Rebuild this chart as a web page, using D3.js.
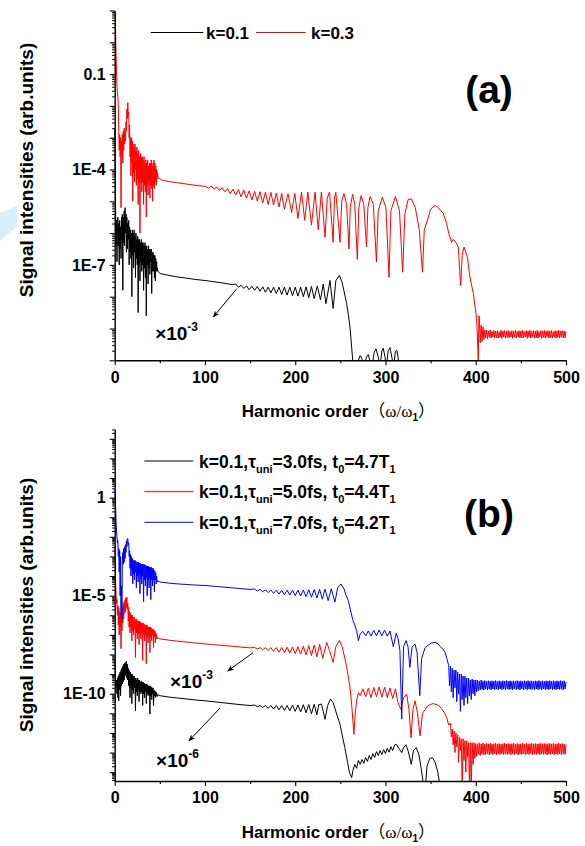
<!DOCTYPE html>
<html>
<head>
<meta charset="utf-8">
<script src="https://cdn.jsdelivr.net/npm/d3@7"></script>
<style>
  body { margin: 0; background: #fff; }
  svg { font-family: "Liberation Sans", Arial, sans-serif; font-weight: bold; }
</style>
</head>
<body>
<div id="chart"></div>
<script>
// ---- data: [harmonic order, log10(intensity)] ----
const xTicks = [0, 100, 200, 300, 400, 500];
const xMinorTicks = [50, 150, 250, 350, 450];
const yLabelsA = [[-1, "0.1"], [-4, "1E-4"], [-7, "1E-7"]];
const yLabelsB = [[0, "1"], [-5, "1E-5"], [-10, "1E-10"]];
const legendA = ["k=0.1", "k=0.3"];
const tauValues = ["3.0", "5.0", "7.0"];
const t0Values = ["4.7", "4.4", "4.2"];

// (a) k=0.1, scaled x10^-3
const aK01 = [[0,-2.7],[0.5,-4.0],[1,-5.3],[1.5,-6.4],[2,-5.6],[2.5,-6.9],[3,-6.0],[3.5,-5.5],[4,-6.4],[4.5,-5.7],
  [5,-7.0],[5.5,-5.6],[6,-6.5],[6.5,-5.8],[7,-6.8],[7.5,-5.5],[8,-6.2],[8.5,-5.4],[9,-7.8],[9.5,-5.5],
  [10,-6.3],[10.5,-5.3],[11,-6.4],[11.5,-5.2],[12,-6.0],[12.5,-5.4],[13,-6.6],[13.5,-5.5],[14,-6.5],[14.5,-5.7],
  [15,-6.2],[15.5,-5.6],[16,-7.0],[16.5,-5.8],[17,-6.6],[17.5,-5.9],[18,-6.8],[18.5,-6.0],[19,-8.0],[19.5,-5.9],
  [20,-6.7],[20.5,-6.0],[21,-7.1],[21.5,-5.9],[22,-6.6],[22.5,-6.1],[23,-7.4],[23.5,-6.0],[24,-6.8],[24.5,-6.2],
  [25,-7.0],[25.5,-6.1],[26,-8.5],[26.5,-6.2],[27,-7.0],[27.5,-6.2],[28,-7.5],[28.5,-6.3],[29,-6.9],[29.5,-6.2],
  [30,-7.2],[30.5,-6.3],[31,-7.0],[31.5,-6.3],[32,-7.8],[32.5,-6.4],[33,-7.1],[33.5,-6.3],[34,-7.4],[34.5,-6.4],
  [35,-8.6],[35.5,-6.4],[36,-7.0],[36.5,-6.5],[37,-7.6],[37.5,-6.4],[38,-7.1],[38.5,-6.5],[39,-7.3],[39.5,-6.5],
  [40,-6.9],[40.5,-6.5],[41,-7.9],[41.5,-6.6],[42,-7.2],[42.5,-6.6],[43,-7.2],[43.5,-6.7],[44,-7.4],[44.5,-6.7],
  [45,-7.5],[45.5,-6.8],[46,-7.2],[46.5,-6.9],[47,-7.2],[47.5,-7.1],[48,-7.2],[50,-7.27],[60,-7.33],[70,-7.38],
  [80,-7.42],[90,-7.46],[100,-7.49],[110,-7.53],[120,-7.57],[130,-7.62],[134,-7.6],[137,-7.7],[140,-7.64],[143,-7.74],
  [146,-7.66],[149,-7.78],[152,-7.67],[155,-7.8],[158,-7.68],[161,-7.83],[164,-7.69],[167,-7.86],[170,-7.7],[173,-7.88],
  [176,-7.7],[179,-7.9],[182,-7.7],[185,-7.93],[188,-7.7],[191,-7.95],[194,-7.7],[197,-7.97],[200,-7.7],[203,-7.98],
  [206,-7.7],[209,-8.0],[212,-7.69],[215,-8.03],[218,-7.68],[221,-8.06],[224.5,-7.66],[228,-8.1],[231,-7.6],[234,-8.22],
  [238.5,-7.49],[242,-8.37],[245,-7.5],[248.9,-7.33],[252,-7.55],[255,-7.95],[257,-8.22],[259,-8.6],[260.7,-8.96],[262,-9.4],
  [263.7,-10.0],[265,-10.5],[268,-10.4],[270,-10.0],[272,-9.85],[274,-9.95],[276,-10.2],[279,-9.9],[281,-9.82],[283,-10.05],
  [285,-10.2],[287.5,-9.75],[289.6,-9.64],[292,-9.9],[294,-10.2],[296,-9.7],[297.5,-9.62],[299.5,-9.9],[301,-10.2],[303,-9.7],
  [305,-9.6],[307,-9.9],[309,-10.2],[311,-9.72],[312.5,-9.68],[314,-9.9],[315,-10.3],[316,-10.6]];

// (a) k=0.3
const aK03 = [[0,1.0],[0.5,0.9],[1,0.3],[1.5,-0.4],[2,-0.9],[2.5,-1.3],[3,-1.6],[3.5,-1.7],[4,-2.0],[4.5,-2.8],
  [5,-3.4],[5.5,-2.9],[6,-3.6],[6.5,-3.0],[7,-5.2],[7.5,-3.1],[8,-3.5],[8.5,-2.9],[9,-3.8],[9.5,-2.8],
  [10,-3.4],[10.5,-2.7],[11,-3.2],[11.5,-2.8],[12,-3.1],[12.5,-2.5],[13,-2.8],[13.5,-2.1],[14,-2.4],[14.5,-1.9],
  [15,-2.3],[15.5,-2.2],[16,-3.0],[16.5,-2.6],[17,-3.6],[17.5,-3.0],[18,-4.2],[18.5,-3.0],[19,-3.8],[19.5,-3.1],
  [20,-5.0],[20.5,-3.2],[21,-4.1],[21.5,-3.3],[22,-4.4],[22.5,-3.2],[23,-4.0],[23.5,-3.4],[24,-4.5],[24.5,-3.3],
  [25,-4.3],[25.5,-3.5],[26,-5.1],[26.5,-3.4],[27,-4.4],[27.5,-3.6],[28,-6.0],[28.5,-3.5],[29,-4.4],[29.5,-3.6],
  [30,-4.7],[30.5,-3.6],[31,-4.4],[31.5,-3.7],[32,-5.1],[32.5,-3.6],[33,-4.5],[33.5,-3.8],[34,-4.7],[34.5,-3.7],
  [35,-5.5],[35.5,-3.8],[36,-4.5],[36.5,-3.7],[37,-4.8],[37.5,-3.9],[38,-4.4],[38.5,-3.8],[39,-4.9],[39.5,-3.8],
  [40,-4.5],[40.5,-3.7],[41,-4.6],[41.5,-3.9],[42,-5.0],[42.5,-3.8],[43,-4.5],[43.5,-3.7],[44,-4.6],[44.5,-3.8],
  [45,-4.4],[45.5,-3.9],[46,-4.5],[46.5,-4.0],[47,-4.3],[47.5,-4.1],[48,-4.25],[52,-4.33],[60,-4.38],[70,-4.42],
  [80,-4.46],[90,-4.5],[100,-4.53],[104,-4.58],[107,-4.52],[110,-4.62],[113,-4.55],[116,-4.66],[119,-4.57],[122,-4.7],
  [125,-4.6],[128,-4.76],[131,-4.62],[134,-4.8],[137,-4.63],[140,-4.86],[143,-4.65],[146,-4.9],[149,-4.67],[152,-4.96],
  [155,-4.69],[158,-5.0],[161,-4.7],[164,-5.05],[167,-4.71],[170,-5.1],[173,-4.72],[176,-5.12],[179,-4.74],[182,-5.18],
  [185,-4.75],[188,-5.25],[192,-4.76],[196,-5.35],[199.5,-4.76],[203,-5.54],[207,-4.71],[210.5,-5.6],[214,-4.71],[218,-5.75],
  [222,-4.71],[225.5,-5.9],[229,-4.71],[233,-6.13],[235.5,-4.9],[238,-4.71],[242,-6.29],[243.5,-4.9],[245,-4.72],[249.6,-6.29],
  [251.5,-5.0],[254,-4.76],[257,-5.1],[259.6,-6.5],[261,-5.2],[263.5,-4.78],[266,-5.1],[268.8,-6.83],[270.5,-5.2],[273,-4.82],
  [276,-5.1],[279,-6.44],[280.5,-5.2],[283,-4.85],[286.5,-5.1],[290,-6.91],[292,-5.3],[296.5,-4.87],[300.5,-5.2],[303.9,-7.39],
  [306,-5.3],[311,-4.85],[315.5,-5.3],[319,-7.23],[321.5,-5.4],[325,-4.95],[328.6,-4.92],[333,-5.2],[337.5,-5.9],[341,-7.23],
  [343,-5.9],[347.5,-5.5],[350,-5.25],[352.6,-5.18],[355,-5.13],[358,-5.2],[361,-5.28],[364,-5.38],[367.8,-5.7],[370,-6.0],
  [373.3,-6.29],[375,-6.2],[377,-6.25],[380.7,-6.44],[383.3,-7.65],[385,-6.7],[387,-6.44],[390.8,-6.76],[393.6,-7.39],[397.3,-7.9],
  [400.3,-8.53],[401.5,-9.0],[402.8,-10.0],[403.5,-8.6],[404,-8.7],[405,-9.45],[406,-8.9],[407,-9.4],[408,-8.95],[409,-9.35],
  [410,-9.05],[411,-9.3],[412,-9.05],[413,-9.32],[414,-9.08],[415,-9.28],[416,-9.05],[417,-9.3],[418,-9.1],[419,-9.27],
  [420,-9.06],[421,-9.3],[422,-9.08],[423,-9.29],[424,-9.07],[425,-9.3],[426,-9.1],[427,-9.28],[428,-9.06],[429,-9.31],
  [430,-9.08],[431,-9.27],[432,-9.07],[433,-9.3],[434,-9.09],[435,-9.28],[436,-9.06],[437,-9.3],[438,-9.1],[439,-9.27],
  [440,-9.07],[441,-9.31],[442,-9.08],[443,-9.28],[444,-9.06],[445,-9.3],[446,-9.09],[447,-9.27],[448,-9.07],[449,-9.3],
  [450,-9.08],[451,-9.29],[452,-9.06],[453,-9.3],[454,-9.1],[455,-9.27],[456,-9.07],[457,-9.31],[458,-9.08],[459,-9.28],
  [460,-9.06],[461,-9.3],[462,-9.09],[463,-9.27],[464,-9.07],[465,-9.3],[466,-9.08],[467,-9.29],[468,-9.06],[469,-9.3],
  [470,-9.1],[471,-9.27],[472,-9.07],[473,-9.31],[474,-9.08],[475,-9.28],[476,-9.06],[477,-9.3],[478,-9.09],[479,-9.27],
  [480,-9.07],[481,-9.3],[482,-9.08],[483,-9.29],[484,-9.06],[485,-9.3],[486,-9.1],[487,-9.27],[488,-9.07],[489,-9.31],
  [490,-9.08],[491,-9.28],[492,-9.06],[493,-9.3],[494,-9.09],[495,-9.27],[496,-9.07],[497,-9.3],[498,-9.08],[499,-9.29],[500,-9.1]];

// (b) k=0.1, tau=3.0fs, scaled x10^-6
const bTau3 = [[0,-8.3],[0.5,-8.8],[1,-9.4],[1.5,-9.7],[2,-9.3],[2.5,-10.0],[3,-9.2],[3.5,-10.2],[4,-9.1],[4.5,-10.36],
  [5,-9.0],[5.5,-9.8],[6,-8.9],[6.5,-10.1],[7,-8.8],[7.5,-9.6],[8,-8.7],[8.5,-9.5],[9,-8.6],[9.5,-9.4],
  [10,-8.5],[10.5,-9.3],[11,-8.45],[11.5,-9.1],[12,-8.4],[12.5,-9.0],[13,-8.35],[13.5,-9.2],[14,-8.5],[14.5,-9.3],
  [15,-8.7],[15.5,-9.6],[16,-8.8],[16.5,-9.5],[17,-10.2],[17.5,-8.9],[18,-9.7],[18.5,-9.0],[19,-10.5],[19.5,-9.0],
  [20,-9.8],[20.5,-9.1],[21,-10.0],[21.5,-9.1],[22,-9.7],[22.5,-9.2],[23,-10.87],[23.5,-9.2],[24,-9.9],[24.5,-9.3],
  [25,-10.1],[25.5,-9.2],[26,-9.8],[26.5,-9.3],[27,-10.4],[27.5,-9.3],[28,-9.9],[28.5,-9.4],[29,-10.0],[29.5,-9.35],
  [30,-9.9],[30.5,-9.4],[31,-10.6],[31.5,-9.4],[32,-10.0],[32.5,-9.45],[33,-10.2],[33.5,-9.5],[34,-9.9],[34.5,-9.5],
  [35,-10.5],[35.5,-9.5],[36,-10.0],[36.5,-9.55],[37,-10.1],[37.5,-9.6],[38,-10.0],[38.5,-9.6],[39,-11.04],[39.5,-9.6],
  [40,-10.1],[40.5,-9.65],[41,-10.3],[41.5,-9.7],[42,-10.0],[42.5,-9.7],[43,-10.6],[43.5,-9.8],[44,-10.1],[44.5,-9.85],
  [45,-10.2],[45.5,-9.9],[46,-10.1],[46.5,-9.95],[47,-10.15],[48,-10.05],[50,-10.1],[60,-10.17],[70,-10.22],[80,-10.27],
  [90,-10.32],[100,-10.36],[110,-10.41],[120,-10.46],[130,-10.51],[140,-10.56],[150,-10.6],[155,-10.58],[158,-10.66],[161,-10.6],
  [164,-10.7],[167,-10.6],[170,-10.74],[173,-10.6],[176,-10.78],[179,-10.6],[182,-10.82],[185,-10.6],[188,-10.85],[191,-10.6],
  [194,-10.87],[197,-10.58],[200,-10.9],[203,-10.57],[206,-10.93],[209,-10.56],[212,-10.97],[215,-10.55],[218,-11.02],[221,-10.54],
  [224,-11.08],[226,-10.56],[229,-10.53],[231,-10.9],[233,-11.3],[236,-10.6],[239,-10.27],[242,-10.45],[245,-10.9],[249.6,-11.55],
  [252,-12.1],[255,-12.75],[258,-13.5],[260,-14.0],[262.5,-14.28],[264,-13.9],[266,-13.6],[268,-13.8],[270,-13.4],[272,-13.6],
  [274,-13.35],[276,-13.55],[278,-13.25],[280,-13.45],[282,-13.15],[284,-13.35],[286,-13.05],[288,-13.25],[290,-12.95],[292,-13.15],
  [294,-12.9],[296,-13.1],[298,-12.85],[300,-13.05],[302,-12.78],[304,-12.98],[306,-12.7],[308,-12.9],[310,-12.62],[312,-12.58],
  [315,-12.8],[318,-13.0],[320,-12.75],[322.6,-12.6],[325,-12.9],[328.6,-13.6],[331,-12.9],[334,-12.75],[337,-13.1],[339.5,-13.8],
  [342,-14.6],[344,-14.9],[346,-13.7],[349,-13.3],[352,-13.26],[355,-13.5],[358,-14.0],[360,-14.6],[362,-15.0]];

// (b) k=0.1, tau=5.0fs, scaled x10^-3
const bTau5 = [[0,-2.59],[0.5,-3.2],[1,-4.2],[1.5,-5.0],[2,-5.4],[2.5,-5.2],[3,-6.0],[3.5,-5.5],[4,-6.5],[4.5,-5.6],
  [5,-7.0],[5.5,-5.8],[6,-6.6],[6.5,-5.9],[7,-7.7],[7.5,-5.8],[8,-6.8],[8.5,-5.6],[9,-6.4],[9.5,-5.4],
  [10,-6.2],[10.5,-5.3],[11,-5.9],[11.5,-5.2],[12,-5.8],[12.5,-5.1],[13,-5.6],[13.5,-5.08],[14,-5.7],[14.5,-5.4],
  [15,-6.3],[15.5,-5.6],[16,-6.6],[16.5,-5.8],[17,-6.9],[17.5,-5.9],[18,-6.6],[18.5,-6.0],[19,-7.3],[19.5,-6.0],
  [20,-6.8],[20.5,-6.1],[21,-7.0],[21.5,-6.1],[22,-6.7],[22.5,-6.2],[23,-8.15],[23.5,-6.2],[24,-6.9],[24.5,-6.2],
  [25,-7.2],[25.5,-6.3],[26,-6.9],[26.5,-6.3],[27,-7.5],[27.5,-6.3],[28,-7.0],[28.5,-6.35],[29,-7.2],[29.5,-6.4],
  [30,-6.9],[30.5,-6.4],[31,-8.3],[31.5,-6.4],[32,-7.0],[32.5,-6.45],[33,-7.3],[33.5,-6.5],[34,-7.0],[34.5,-6.5],
  [35,-8.47],[35.5,-6.5],[36,-7.1],[36.5,-6.55],[37,-7.4],[37.5,-6.6],[38,-7.0],[38.5,-6.6],[39,-7.9],[39.5,-6.6],
  [40,-7.1],[40.5,-6.65],[41,-7.3],[41.5,-6.7],[42,-7.0],[42.5,-6.7],[43,-7.64],[43.5,-6.75],[44,-7.1],[44.5,-6.8],
  [45,-7.4],[45.5,-6.9],[46,-7.2],[46.5,-7.0],[47,-7.2],[48,-7.15],[50,-7.2],[60,-7.27],[70,-7.32],[80,-7.37],
  [90,-7.42],[100,-7.46],[110,-7.5],[120,-7.54],[130,-7.58],[140,-7.62],[150,-7.66],[155,-7.64],[158,-7.72],[161,-7.65],
  [164,-7.76],[167,-7.65],[170,-7.8],[173,-7.65],[176,-7.84],[179,-7.65],[182,-7.88],[185,-7.64],[188,-7.9],[191,-7.63],
  [194,-7.93],[197,-7.62],[200,-7.96],[203,-7.6],[206,-7.98],[209,-7.58],[212,-8.02],[215,-7.55],[218,-8.06],[221,-7.52],
  [224,-8.12],[227,-7.48],[230.5,-8.2],[234.9,-7.38],[238,-7.8],[242,-8.4],[245,-7.6],[248.9,-7.29],[252,-7.6],[255,-8.2],
  [257,-8.66],[259,-9.2],[261,-9.8],[263,-10.8],[265,-12.07],[266.5,-11.0],[268,-10.36],[270,-9.95],[272,-10.1],[275,-9.75],
  [278,-10.15],[281,-9.72],[284,-10.2],[287,-9.68],[290,-10.15],[293,-9.65],[296,-10.18],[299,-9.67],[302,-10.2],[305,-9.7],
  [308,-10.25],[311,-9.75],[313.5,-10.4],[317,-10.8],[320,-10.2],[323.5,-10.02],[326,-10.8],[328.3,-12.24],[330.5,-10.8],[332.7,-10.36],
  [335.5,-11.0],[338.3,-12.15],[341,-11.0],[344,-10.8],[347,-10.6],[350,-10.55],[353,-10.5],[356,-10.55],[359,-10.6],[362,-10.75],
  [365,-10.95],[367.8,-11.2],[370,-11.6],[372,-11.5],[373,-12.2],[374,-11.8],[375,-12.6],[376,-11.9],[377,-13.0],[378,-12.0],
  [379,-12.7],[380,-12.1],[381,-13.5],[382,-12.2],[383,-12.9],[384,-12.3],[385,-15.0],[386,-12.3],[387,-13.4],[388,-12.4],
  [389,-14.0],[390,-12.4],[391,-13.2],[392,-12.5],[393,-14.6],[394,-12.5],[395,-15.0],[396,-12.5],[397,-13.6],[398,-12.5],
  [399,-13.3],[400,-12.55],[401,-13.2],[402,-12.55],[403,-13.1],[404,-12.5],[405,-13.15],[406,-12.56],[407,-13.08],[408,-12.52],
  [409,-13.12],[410,-12.57],[411,-13.1],[412,-12.54],[413,-13.06],[414,-12.56],[415,-13.12],[416,-12.53],[417,-13.08],[418,-12.57],
  [419,-13.1],[420,-12.55],[421,-13.07],[422,-12.53],[423,-13.11],[424,-12.56],[425,-13.08],[426,-12.54],[427,-13.1],[428,-12.57],
  [429,-13.06],[430,-12.55],[431,-13.11],[432,-12.53],[433,-13.08],[434,-12.56],[435,-13.1],[436,-12.54],[437,-13.07],[438,-12.57],
  [439,-13.11],[440,-12.55],[441,-13.08],[442,-12.53],[443,-13.1],[444,-12.56],[445,-13.06],[446,-12.54],[447,-13.12],[448,-12.57],
  [449,-13.08],[450,-12.55],[451,-13.1],[452,-12.53],[453,-13.07],[454,-12.56],[455,-13.11],[456,-12.54],[457,-13.08],[458,-12.57],
  [459,-13.1],[460,-12.55],[461,-13.06],[462,-12.53],[463,-13.11],[464,-12.56],[465,-13.08],[466,-12.54],[467,-13.1],[468,-12.57],
  [469,-13.07],[470,-12.55],[471,-13.11],[472,-12.53],[473,-13.08],[474,-12.56],[475,-13.1],[476,-12.54],[477,-13.06],[478,-12.57],
  [479,-13.12],[480,-12.55],[481,-13.08],[482,-12.53],[483,-13.1],[484,-12.56],[485,-13.07],[486,-12.54],[487,-13.11],[488,-12.57],
  [489,-13.08],[490,-12.55],[491,-13.1],[492,-12.53],[493,-13.06],[494,-12.56],[495,-13.11],[496,-12.54],[497,-13.08],[498,-12.57],
  [499,-13.1],[500,-12.6]];

// (b) k=0.1, tau=7.0fs
const bTau7 = [[0,0.38],[0.5,0.2],[1,-0.5],[1.5,-1.2],[2,-1.7],[2.5,-2.0],[3,-2.3],[3.5,-2.2],[4,-3.0],[4.5,-2.6],
  [5,-3.8],[5.5,-2.7],[6,-5.0],[6.5,-3.0],[7,-6.0],[7.5,-4.5],[8,-6.3],[8.5,-3.2],[9,-2.8],[9.5,-3.4],
  [10,-2.6],[10.5,-3.3],[11,-2.5],[11.5,-3.1],[12,-2.4],[12.5,-2.8],[13,-2.2],[13.5,-2.5],[14,-2.1],[14.5,-2.08],
  [15,-2.4],[15.5,-2.3],[16,-3.0],[16.5,-2.7],[17,-3.6],[17.5,-2.9],[18,-4.0],[18.5,-3.0],[19,-3.7],[19.5,-3.1],
  [20,-4.4],[20.5,-3.2],[21,-3.9],[21.5,-3.2],[22,-4.2],[22.5,-3.2],[23,-3.8],[23.5,-3.25],[24,-4.6],[24.5,-3.3],
  [25,-4.0],[25.5,-3.3],[26,-4.3],[26.5,-3.3],[27,-3.9],[27.5,-3.35],[28,-4.9],[28.5,-3.35],[29,-4.1],[29.5,-3.4],
  [30,-4.4],[30.5,-3.4],[31,-4.0],[31.5,-3.4],[32,-5.3],[32.5,-3.4],[33,-4.2],[33.5,-3.45],[34,-4.5],[34.5,-3.45],
  [35,-4.1],[35.5,-3.5],[36,-5.0],[36.5,-3.5],[37,-4.2],[37.5,-3.5],[38,-4.6],[38.5,-3.55],[39,-4.1],[39.5,-3.55],
  [40,-5.2],[40.5,-3.55],[41,-4.2],[41.5,-3.6],[42,-4.5],[42.5,-3.6],[43,-4.2],[43.5,-3.7],[44,-4.8],[44.5,-3.75],
  [45,-4.2],[45.5,-3.85],[46,-4.4],[46.5,-4.0],[47,-4.3],[48,-4.25],[50,-4.3],[60,-4.36],[70,-4.4],[80,-4.43],
  [90,-4.46],[100,-4.48],[110,-4.52],[120,-4.56],[130,-4.6],[140,-4.64],[150,-4.68],[155,-4.66],[158,-4.76],[161,-4.68],
  [164,-4.8],[167,-4.7],[170,-4.84],[173,-4.71],[176,-4.88],[179,-4.72],[182,-4.92],[185,-4.72],[188,-4.95],[191,-4.72],
  [194,-4.97],[197,-4.72],[200,-5.0],[203,-4.72],[206,-5.02],[209,-4.71],[212,-5.05],[215,-4.7],[218,-5.08],[221,-4.69],
  [224,-5.12],[227,-4.68],[230,-5.18],[233,-4.67],[236.5,-5.25],[240,-4.65],[244,-5.33],[247,-4.6],[250.7,-4.4],[254,-4.65],
  [256.5,-5.0],[258.8,-5.25],[261,-5.7],[264,-6.27],[266,-6.5],[268,-6.78],[270,-7.29],[272,-6.95],[275,-6.82],[278,-7.05],
  [281,-6.8],[284,-7.06],[287,-6.77],[290,-7.05],[293,-6.75],[296,-7.04],[299,-6.76],[302,-7.06],[305,-6.8],[308.7,-7.6],
  [312,-6.9],[314,-7.2],[316,-7.8],[318,-11.3],[320,-7.6],[322.7,-7.29],[325,-7.6],[327,-8.66],[329.5,-7.6],[332.7,-7.46],
  [335,-7.9],[338,-10.1],[340,-8.2],[344,-7.64],[348,-7.5],[351,-7.42],[355,-7.38],[358,-7.45],[361,-7.6],[364,-7.75],
  [366,-7.89],[368,-8.2],[369.6,-8.49],[370,-8.5],[371,-9.6],[372,-8.6],[373,-9.9],[374,-8.7],[375,-10.2],[376,-8.8],
  [377,-9.7],[378,-8.8],[379,-10.4],[380,-8.9],[381,-10.0],[382,-9.0],[383,-10.9],[384,-9.0],[385,-10.3],[386,-9.1],
  [387,-10.6],[388,-9.1],[389,-10.2],[390,-9.2],[391,-10.5],[392,-9.2],[393,-10.1],[394,-9.3],[395,-10.3],[396,-9.25],
  [397,-10.0],[398,-9.3],[399,-10.1],[400,-9.3],[401,-9.9],[402,-9.3],[403,-9.85],[404,-9.35],[405,-9.8],[406,-9.3],
  [407,-9.78],[408,-9.36],[409,-9.82],[410,-9.33],[411,-9.76],[412,-9.36],[413,-9.8],[414,-9.34],[415,-9.77],[416,-9.37],
  [417,-9.8],[418,-9.34],[419,-9.76],[420,-9.36],[421,-9.79],[422,-9.33],[423,-9.77],[424,-9.36],[425,-9.8],[426,-9.34],
  [427,-9.76],[428,-9.37],[429,-9.79],[430,-9.34],[431,-9.77],[432,-9.36],[433,-9.8],[434,-9.33],[435,-9.76],[436,-9.36],
  [437,-9.79],[438,-9.34],[439,-9.77],[440,-9.37],[441,-9.8],[442,-9.34],[443,-9.76],[444,-9.36],[445,-9.79],[446,-9.33],
  [447,-9.77],[448,-9.36],[449,-9.8],[450,-9.34],[451,-9.76],[452,-9.37],[453,-9.79],[454,-9.34],[455,-9.77],[456,-9.36],
  [457,-9.8],[458,-9.33],[459,-9.76],[460,-9.36],[461,-9.79],[462,-9.34],[463,-9.77],[464,-9.37],[465,-9.8],[466,-9.34],
  [467,-9.76],[468,-9.36],[469,-9.79],[470,-9.33],[471,-9.77],[472,-9.36],[473,-9.8],[474,-9.34],[475,-9.76],[476,-9.37],
  [477,-9.79],[478,-9.34],[479,-9.77],[480,-9.36],[481,-9.8],[482,-9.33],[483,-9.76],[484,-9.36],[485,-9.79],[486,-9.34],
  [487,-9.77],[488,-9.37],[489,-9.8],[490,-9.34],[491,-9.76],[492,-9.36],[493,-9.79],[494,-9.33],[495,-9.77],[496,-9.36],
  [497,-9.8],[498,-9.34],[499,-9.76],[500,-9.4]];

// annotation positions in data units [order, log10]
const arrowsA = [[[135.2, -7.75], [109.2, -8.64]]];
const arrowsB = [[[153.2, -7.91], [125.2, -8.84]], [[116.7, -10.73], [82.3, -12.4]]];
const scaleNotesA = [[44.8, -9.35, "-3"]];
const scaleNotesB = [[61.3, -9.71, "-3"], [45.8, -13.74, "-6"]];

const width = 585, height = 846;
const left = 114.7, right = 566;

const svg = d3.select("#chart").append("svg")
  .attr("width", width).attr("height", height);

const defs = svg.append("defs");
defs.append("marker")
  .attr("id", "arrowhead")
  .attr("viewBox", "0 0 10 10")
  .attr("refX", 9).attr("refY", 5)
  .attr("markerWidth", 7).attr("markerHeight", 7)
  .attr("orient", "auto")
  .append("path").attr("d", "M0,1 L10,5 L0,9 L3,5 Z").attr("fill", "#000");

// faint watermark at left edge
svg.append("polygon")
  .attr("points", "0,213 17,206 17,226 0,241")
  .attr("fill", "#d9eefb");

const x = d3.scaleLinear().domain([0, 500]).range([left, right]);

function drawPanel(p) {
  const y = d3.scaleLog()
    .domain([Math.pow(10, p.yMin), Math.pow(10, p.yMax)])
    .range([p.bottom, p.top]);

  const clipId = "clip-" + p.id;
  defs.append("clipPath").attr("id", clipId)
    .append("rect")
    .attr("x", left - 1).attr("y", p.top)
    .attr("width", right - left + 2).attr("height", p.bottom - p.top);

  const line = d3.line()
    .x(d => x(d[0]))
    .y(d => y(Math.pow(10, d[1])));

  const g = svg.append("g").attr("clip-path", `url(#${clipId})`);
  p.series.forEach(s => {
    g.append("path")
      .attr("d", line(s.data))
      .attr("fill", "none")
      .attr("stroke", s.color)
      .attr("stroke-width", 1)
      .attr("stroke-linejoin", "round");
  });

  // x axis
  const xg = svg.append("g").attr("transform", `translate(0,${p.bottom})`);
  xg.call(d3.axisBottom(x).tickValues(xTicks).tickSize(5).tickSizeOuter(0).tickPadding(6).tickFormat(d3.format("d")));
  xg.append("g").call(d3.axisBottom(x).tickValues(xMinorTicks).tickSize(3).tickSizeOuter(0).tickFormat(""))
    .select(".domain").remove();

  // y axis: decades and minor ticks
  const decades = d3.range(Math.ceil(p.yMin), Math.floor(p.yMax) + 1);
  const minor = [];
  d3.range(Math.floor(p.yMin), Math.ceil(p.yMax) + 1).forEach(d => {
    for (let k = 2; k <= 9; k++) {
      const v = Math.log10(k) + d;
      if (v > p.yMin && v < p.yMax) minor.push(Math.pow(10, v));
    }
  });
  const labels = new Map(p.labels.map(l => [l[0], l[1]]));
  const yg = svg.append("g").attr("transform", `translate(${left},0)`);
  yg.call(d3.axisLeft(y).tickValues(decades.map(d => Math.pow(10, d))).tickSize(5).tickSizeOuter(0).tickPadding(4)
    .tickFormat(v => labels.get(Math.round(Math.log10(v))) || ""));
  yg.append("g").call(d3.axisLeft(y).tickValues(minor).tickSize(2.5).tickSizeOuter(0).tickFormat(""))
    .select(".domain").remove();

  [xg, yg].forEach(a => {
    a.attr("font-family", null).attr("font-size", 16);
    a.selectAll("text").attr("fill", "#000").style("font-weight", "bold");
    a.selectAll(".domain").attr("stroke-width", 1.4);
    a.selectAll(".tick line").attr("stroke-width", 1.1);
  });

  // axis titles
  const xt = svg.append("text")
    .attr("x", (left + right) / 2 - 2).attr("y", p.bottom + 57)
    .attr("text-anchor", "middle").attr("font-size", 17);
  xt.append("tspan").text("Harmonic order");
  xt.append("tspan").attr("font-family", "Noto Sans CJK SC").attr("font-weight", "normal").text("（");
  xt.append("tspan").attr("font-family", "Liberation Serif").attr("font-weight", "normal").text("ω/ω");
  xt.append("tspan").attr("font-size", 10).attr("dy", 4).text("1");
  xt.append("tspan").attr("font-family", "Noto Sans CJK SC").attr("font-weight", "normal").attr("dy", -4).text("）");

  svg.append("text")
    .attr("transform", `translate(33,${p.titleY}) rotate(-90)`)
    .attr("text-anchor", "middle").attr("font-size", 19)
    .text("Signal intensities (arb.units)");

  // panel letter
  svg.append("text").attr("x", 489).attr("y", p.letterY)
    .attr("text-anchor", "middle").attr("font-size", 39).text(p.letter);

  // scale notes and arrows
  p.arrows.forEach(a => {
    svg.append("line")
      .attr("x1", x(a[0][0])).attr("y1", y(Math.pow(10, a[0][1])))
      .attr("x2", x(a[1][0])).attr("y2", y(Math.pow(10, a[1][1])))
      .attr("stroke", "#000").attr("stroke-width", 1)
      .attr("marker-end", "url(#arrowhead)");
  });
  p.notes.forEach(n => {
    const t = svg.append("text").attr("x", x(n[0])).attr("y", y(Math.pow(10, n[1]))).attr("font-size", 19);
    t.append("tspan").text("×10");
    t.append("tspan").attr("font-size", 12).attr("dy", -9).text(n[2]);
  });

  return y;
}

drawPanel({
  id: "a", top: 10.5, bottom: 360.3, yMin: -10, yMax: 1, labels: yLabelsA,
  series: [{data: aK01, color: "#000"}, {data: aK03, color: "#ff0000"}],
  titleY: 170, letter: "(a)", letterY: 103, arrows: arrowsA, notes: scaleNotesA
});
drawPanel({
  id: "b", top: 429, bottom: 781, yMin: -14.45, yMax: 3.5, labels: yLabelsB,
  series: [{data: bTau3, color: "#000"}, {data: bTau5, color: "#ff0000"}, {data: bTau7, color: "#0000ff"}],
  titleY: 605, letter: "(b)", letterY: 527, arrows: arrowsB, notes: scaleNotesB
});

// legend (a)
const legA = [{x1: 150.7, x2: 203.3, tx: 206, color: "#000"}, {x1: 256, x2: 305.7, tx: 311, color: "#ff0000"}];
legA.forEach((l, i) => {
  svg.append("line").attr("x1", l.x1).attr("x2", l.x2).attr("y1", 32.5).attr("y2", 32.5)
    .attr("stroke", l.color).attr("stroke-width", 1);
  svg.append("text").attr("x", l.tx).attr("y", 38.5).attr("font-size", 17).text(legendA[i]);
});

// legend (b)
const legColors = ["#000", "#ff0000", "#0000ff"];
const legY = [461, 491.7, 522.3];
tauValues.forEach((tau, i) => {
  svg.append("line").attr("x1", 144.3).attr("x2", 193.3).attr("y1", legY[i]).attr("y2", legY[i])
    .attr("stroke", legColors[i]).attr("stroke-width", 1);
  const t = svg.append("text").attr("x", 199).attr("y", legY[i] + 6.5).attr("font-size", 17.5);
  t.append("tspan").text("k=0.1,τ");
  t.append("tspan").attr("font-size", 11).attr("dy", 5).text("uni");
  t.append("tspan").attr("dy", -5).text(`=${tau}fs, t`);
  t.append("tspan").attr("font-size", 11).attr("dy", 5).text("0");
  t.append("tspan").attr("dy", -5).text(`=${t0Values[i]}T`);
  t.append("tspan").attr("font-size", 11).attr("dy", 5).text("1");
});
</script>
</body>
</html>
